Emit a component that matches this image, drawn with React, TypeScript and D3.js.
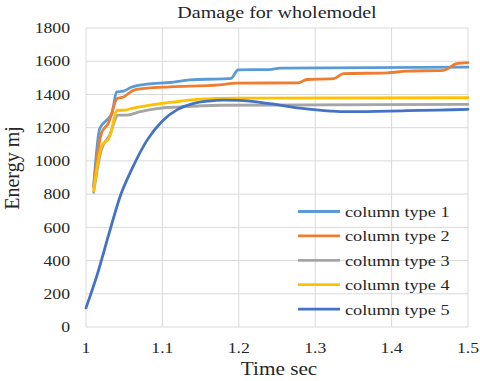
import React from 'react'
import * as d3 from 'd3'

const seriesNames = ['column type 1', 'column type 2', 'column type 3', 'column type 4', 'column type 5']
const seriesColors = ['#5b9bd5', '#ed7d31', '#a5a5a5', '#ffc000', '#4472c4']

// [time sec, energy mj]
const type1 = [
  [1.01, 845], [1.018, 1195], [1.027, 1245], [1.034, 1285], [1.04, 1415], [1.049, 1420],
  [1.06, 1445], [1.08, 1462], [1.11, 1472], [1.136, 1488], [1.185, 1495], [1.19, 1497],
  [1.199, 1548], [1.24, 1550], [1.254, 1558], [1.5, 1565],
]
const type2 = [
  [1.01, 845], [1.02, 1165], [1.029, 1225], [1.041, 1375], [1.049, 1385], [1.062, 1425],
  [1.08, 1438], [1.11, 1446], [1.175, 1458], [1.197, 1468], [1.278, 1470], [1.289, 1490],
  [1.324, 1495], [1.337, 1525], [1.394, 1530], [1.42, 1540], [1.468, 1545], [1.485, 1585], [1.5, 1592],
]
const type3 = [
  [1.01, 810], [1.02, 1065], [1.031, 1155], [1.042, 1275], [1.053, 1275], [1.07, 1295],
  [1.093, 1315], [1.123, 1325], [1.175, 1335], [1.5, 1340],
]
const type4 = [
  [1.01, 820], [1.02, 1085], [1.031, 1145], [1.041, 1305], [1.049, 1305], [1.062, 1318],
  [1.09, 1340], [1.123, 1359], [1.145, 1370], [1.2, 1378], [1.5, 1380],
]
const type5 = [
  [1.0, 115], [1.015, 320], [1.03, 560], [1.045, 790], [1.06, 950], [1.08, 1125], [1.1, 1240],
  [1.12, 1310], [1.14, 1345], [1.16, 1360], [1.18, 1366], [1.2, 1364], [1.24, 1345], [1.28, 1318],
  [1.32, 1300], [1.34, 1296], [1.38, 1298], [1.42, 1302], [1.46, 1306], [1.5, 1310],
]
const allSeries = [type1, type2, type3, type4, type5]

const xTicks = [1, 1.1, 1.2, 1.3, 1.4, 1.5]
const yTicks = [0, 200, 400, 600, 800, 1000, 1200, 1400, 1600, 1800]

const width = 480
const height = 381
const margins = { left: 86, right: 12, top: 28, bottom: 54 }
const font = '"Liberation Serif", "Times New Roman", serif'
const stretch = 1.18 // the picture's text is a bit wide

// text drawn a little wider than tall, like the reference
const Label = ({ x, y, anchor = 'start', size, dy = '0', children }: any) => (
  <text transform={`translate(${x}, ${y}) scale(${stretch}, 1)`} dy={dy} textAnchor={anchor}
    fontSize={size} fill="#262626">{children}</text>
)

const App = () => {
  const x = d3.scaleLinear().domain([1, 1.5]).range([margins.left, width - margins.right])
  const y = d3.scaleLinear().domain([0, 1800]).range([height - margins.bottom, margins.top])

  const line = d3.line<number[]>()
    .x(d => x(d[0]))
    .y(d => y(d[1]))
    .curve(d3.curveMonotoneX)

  return (
    <svg width={width} height={height} style={{ position: 'absolute', left: 0, top: 0, background: '#fff' }}
      fontFamily={font}>
      {/* grid */}
      {yTicks.map(t => (
        <line key={'gy' + t} x1={x(1)} x2={x(1.5)} y1={y(t)} y2={y(t)} stroke="#d9d9d9" strokeWidth={1} />
      ))}
      {xTicks.map(t => (
        <line key={'gx' + t} x1={x(t)} x2={x(t)} y1={y(0)} y2={y(1800)} stroke="#d9d9d9" strokeWidth={1} />
      ))}

      {/* tick labels */}
      {yTicks.map(t => (
        <Label key={'ly' + t} x={x(1) - 16} y={y(t)} dy="0.35em" anchor="end" size={15}>{t}</Label>
      ))}
      {xTicks.map(t => (
        <Label key={'lx' + t} x={x(t)} y={353} anchor="middle" size={15}>{t}</Label>
      ))}

      {/* series */}
      {allSeries.map((s, i) => (
        <path key={'s' + i} d={line(s) || ''} fill="none" stroke={seriesColors[i]} strokeWidth={2.8}
          strokeLinejoin="round" strokeLinecap="round" />
      ))}

      {/* legend */}
      {seriesNames.map((n, i) => (
        <g key={'lg' + i}>
          <line x1={298} x2={340} y1={211.5 + i * 24.4} y2={211.5 + i * 24.4} stroke={seriesColors[i]} strokeWidth={2.8} />
          <Label x={345} y={211.5 + i * 24.4} dy="0.35em" size={15.5}>{n}</Label>
        </g>
      ))}

      {/* titles */}
      <Label x={277} y={18} anchor="middle" size={17}>Damage for wholemodel</Label>
      <Label x={279} y={375} anchor="middle" size={18}>Time sec</Label>
      <text transform="translate(19, 168) rotate(-90)" textAnchor="middle" fontSize={20} fill="#262626">Energy mj</text>
    </svg>
  )
}

export default App
